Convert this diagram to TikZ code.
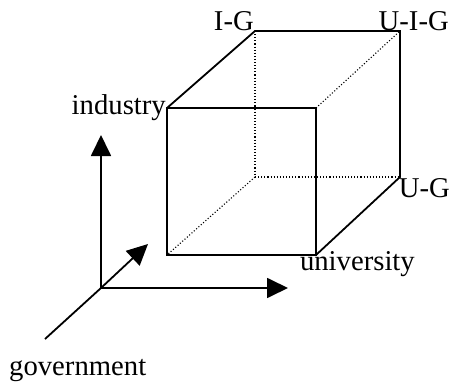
\documentclass[tikz,border=0pt]{standalone}
\usepackage{fontspec}
\setmainfont{Liberation Serif}
\usetikzlibrary{arrows.meta}
\begin{document}
\begin{tikzpicture}[x=1pt,y=-1pt,
  edge/.style={line width=1.8pt,line join=miter},
  hidden/.style={line width=1.1pt,dash pattern=on 1.1pt off 2pt},
  axis/.style={line width=1.8pt,-{Triangle[length=21pt,width=20pt]}},
  lbl/.style={inner sep=0pt,font=\fontsize{28.7}{30}\selectfont}]
\useasboundingbox (0,0) rectangle (451,383);
% cube corners
\coordinate (ftl) at (167,108);
\coordinate (ftr) at (316,108);
\coordinate (fbr) at (316,255);
\coordinate (fbl) at (167,255);
\coordinate (btl) at (255,31);
\coordinate (btr) at (400,31);
\coordinate (bbr) at (400,177);
\coordinate (bbl) at (255,177);
% hidden edges
\draw[hidden] (btl) -- (bbl);
\draw[hidden] (bbl) -- (bbr);
\draw[hidden] (bbl) -- (fbl);
\draw[hidden] (ftr) -- (btr);
% visible edges
\draw[edge] (ftl) -- (ftr) -- (fbr) -- (fbl) -- cycle;
\draw[edge] (ftl) -- (btl) -- (btr) -- (bbr) -- (fbr);
% axes
\coordinate (o) at (101,288);
\coordinate (yend) at (101,135);
\coordinate (xend) at (288,288);
\coordinate (zstart) at (45,339);
\coordinate (zend) at (148,244);
\draw[axis] (o) -- (yend);
\draw[axis] (o) -- (xend);
\draw[line width=1.8pt] (zstart) -- (o);
\draw[axis] (o) -- (zend);
% labels
\node[lbl,anchor=base east] (industry) at (166,114) {industry};
\node[lbl,anchor=base east] (ig) at (254,30) {I-G};
\node[lbl,anchor=base east] (uig) at (449,30) {U-I-G};
\node[lbl,anchor=base east] (ug) at (450,197) {U-G};
\node[lbl,anchor=base east] (university) at (415,270) {university};
\node[lbl,anchor=base west] (government) at (9,375) {government};
\end{tikzpicture}
\end{document}
